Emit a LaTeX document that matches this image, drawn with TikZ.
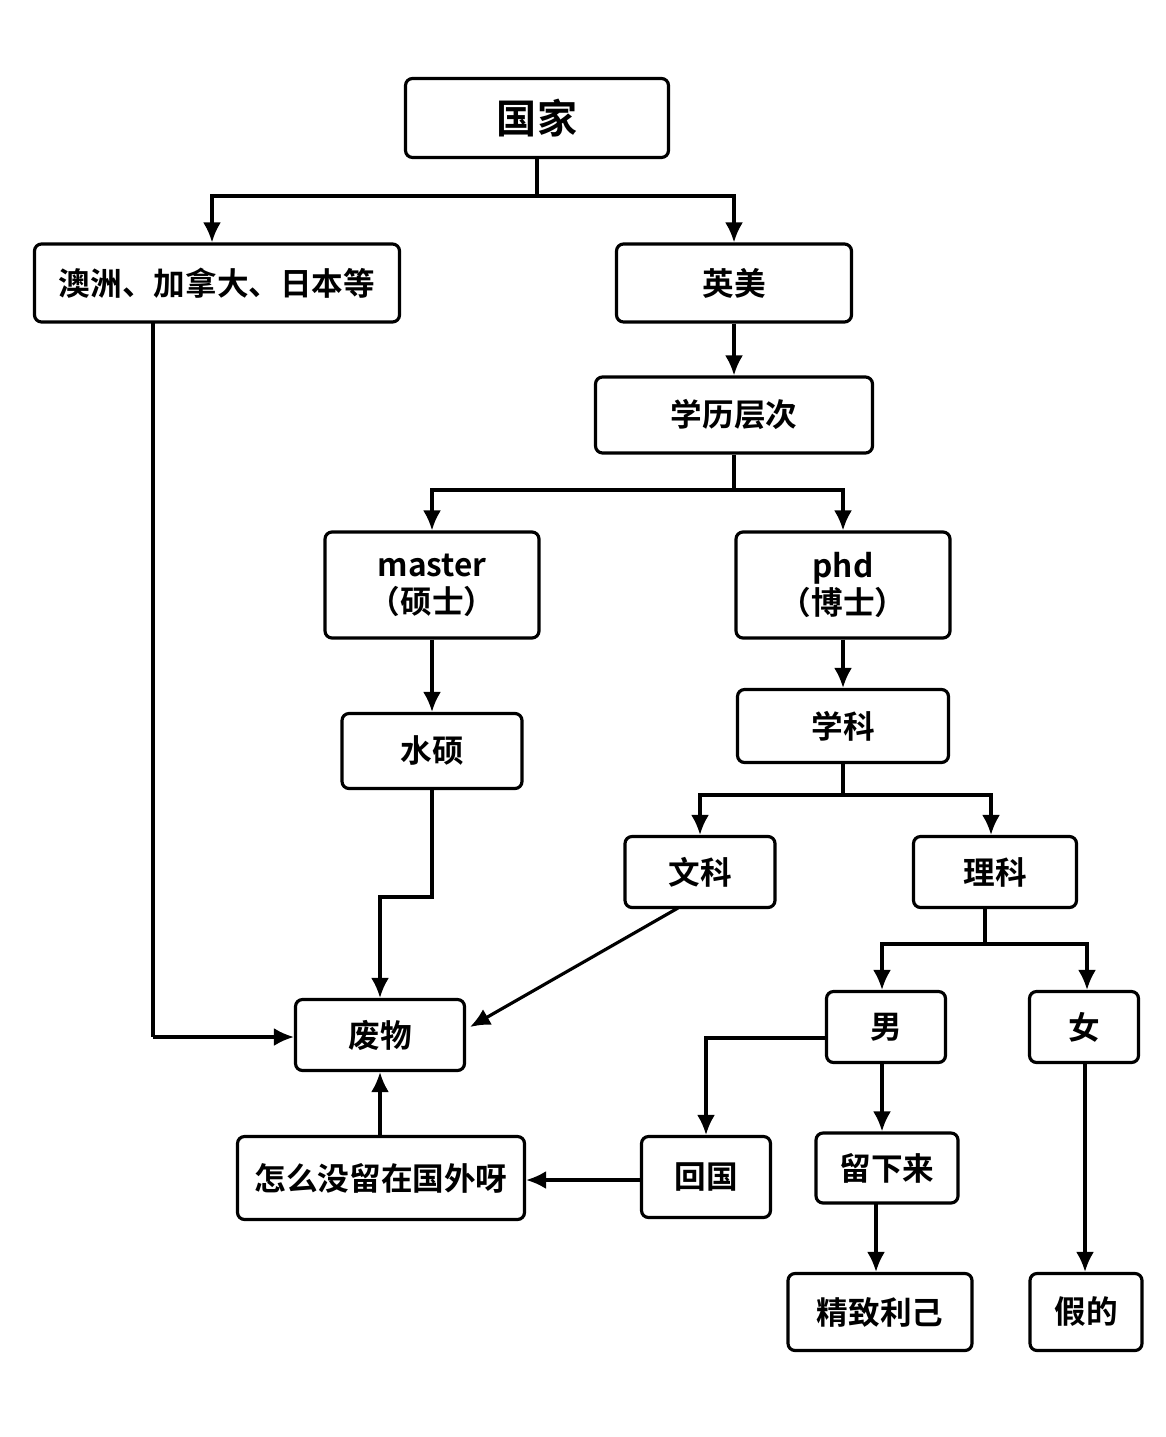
\documentclass[tikz,border=0pt]{standalone}
\usepackage{fontspec}
\setmainfont{Noto Sans CJK SC}[BoldFont={* Bold}]
\usetikzlibrary{arrows.meta}
\begin{document}
\begin{tikzpicture}[x=0.1mm,y=-0.1mm,
  box/.style={draw,line width=0.9pt,rounded corners=2pt,fill=white,inner sep=0pt,align=center,font=\bfseries\fontsize{9}{10.5}\selectfont},
  arr/.style={line width=0.9pt,-{Latex[length=2mm,width=1.8mm]}},
  ln/.style={line width=0.9pt}]
\useasboundingbox[fill=white] (0,0) rectangle (1166,1437);
\node[box,minimum width=26.3mm,minimum height=7.9mm,font=\bfseries\fontsize{11.4}{13}\selectfont] (gj) at (537,118) {国家};
\node[box,minimum width=36.5mm,minimum height=7.8mm] (az) at (217,283) {澳洲、加拿大、日本等};
\node[box,minimum width=23.5mm,minimum height=7.8mm] (ym) at (734,283) {英美};
\node[box,minimum width=27.7mm,minimum height=7.6mm] (xl) at (734,415) {学历层次};
\node[box,minimum width=21.4mm,minimum height=10.6mm] (ms) at (432,585) {master\\（硕士）};
\node[box,minimum width=21.4mm,minimum height=10.6mm] (phd) at (843,585) {phd\\（博士）};
\node[box,minimum width=18mm,minimum height=7.5mm] (ss) at (432,751) {水硕};
\node[box,minimum width=21.1mm,minimum height=7.3mm] (xk) at (843,726) {学科};
\node[box,minimum width=15mm,minimum height=7.1mm] (wk) at (700,872) {文科};
\node[box,minimum width=16.3mm,minimum height=7.1mm] (lk) at (995,872) {理科};
\node[box,minimum width=16.9mm,minimum height=7.1mm] (fw) at (380,1035) {废物};
\node[box,minimum width=11.9mm,minimum height=7.1mm] (nan) at (886,1027) {男};
\node[box,minimum width=10.9mm,minimum height=7.1mm] (nv) at (1084,1027) {女};
\node[box,minimum width=28.7mm,minimum height=8.3mm] (zm) at (381,1178) {怎么没留在国外呀};
\node[box,minimum width=12.9mm,minimum height=8.1mm] (hg) at (706,1177) {回国};
\node[box,minimum width=14.2mm,minimum height=7mm] (lx) at (887,1168) {留下来};
\node[box,minimum width=18.4mm,minimum height=7.7mm] (jz) at (880,1312) {精致利己};
\node[box,minimum width=11.2mm,minimum height=7.7mm] (jd) at (1086,1312) {假的};
% edges
\draw[ln] (gj.south) -- (537,196);
\draw[arr] (537,196) -| (az.north -| 212,0);
\draw[arr] (537,196) -| (ym.north);
\draw[ln] (153,322) -- (153,1037);
\draw[arr] (153,1037) -- (fw.west |- 153,1037);
\draw[arr] (ym) -- (xl);
\draw[ln] (xl.south) -- (734,490);
\draw[arr] (734,490) -| (ms.north);
\draw[arr] (734,490) -| (phd.north);
\draw[arr] (ms) -- (ss);
\draw[arr] (ss.south) -- (432,897) -| (fw.north);
\draw[arr] (phd) -- (xk);
\draw[ln] (xk.south) -- (843,795);
\draw[arr] (843,795) -| (wk.north);
\draw[arr] (843,795) -| (lk.north -| 991,0);
\draw[arr] (678,908) -- (470,1027);
\draw[ln] (985,908) -- (985,944);
\draw[arr] (985,944) -| (nan.north -| 882,0);
\draw[arr] (985,944) -| (nv.north -| 1087,0);
\draw[arr] (nan.west |- 0,1038) -| (hg.north);
\draw[arr] (882,1063) -- (lx.north -| 882,0);
\draw[arr] (876,1203) -- (jz.north -| 876,0);
\draw[arr] (1085,1063) -- (jd.north -| 1085,0);
\draw[arr] (hg.west |- 0,1180) -- (zm.east |- 0,1180);
\draw[arr] (zm.north -| 380,0) -- (fw.south -| 380,0);
\end{tikzpicture}
\end{document}
